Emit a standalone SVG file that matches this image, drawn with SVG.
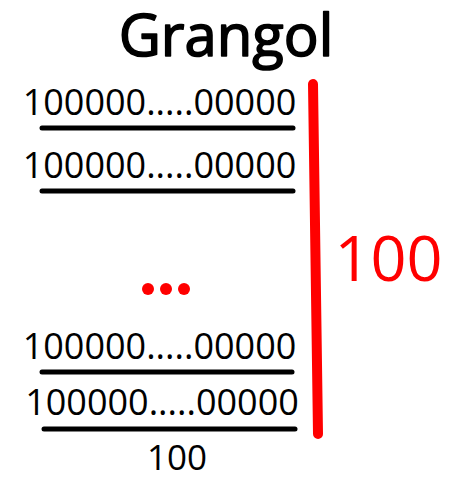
<svg xmlns="http://www.w3.org/2000/svg" width="462" height="479" viewBox="0 0 462 479">
<style>
text{font-family:"Open Sans","Noto Sans","Liberation Sans",sans-serif;}
.row{font-size:36px;fill:#000;}
.ul{stroke:#000;stroke-width:5;stroke-linecap:round;fill:none;}
.dot{fill:#ff0000;}
</style>
<rect width="462" height="479" fill="#fff"/>
<g id="title"><text x="226" y="56" text-anchor="middle" font-size="58" stroke="#000" stroke-width="1.6" stroke-linejoin="round">Grangol</text></g>
<g id="row1"><text class="row" x="159.5" y="115" text-anchor="middle">100000.....00000</text></g>
<g id="row2"><text class="row" x="159.5" y="178" text-anchor="middle">100000.....00000</text></g>
<g id="ellipsis"><circle class="dot" cx="148" cy="289" r="6"/><circle class="dot" cx="166" cy="289" r="6"/><circle class="dot" cx="184" cy="289" r="6"/></g>
<g id="row3"><text class="row" x="159.5" y="359" text-anchor="middle">100000.....00000</text></g>
<g id="row4"><text class="row" x="162" y="415" text-anchor="middle">100000.....00000</text></g>
<g id="result"><text x="177" y="470" text-anchor="middle" font-size="35">100</text></g>
<g id="count"><text x="388.5" y="281" text-anchor="middle" font-size="63" fill="#ff0000">100</text></g>
<g id="connectors">
<line class="ul" x1="42" y1="128" x2="293" y2="128"/>
<line class="ul" x1="42" y1="191" x2="293" y2="191"/>
<line class="ul" x1="42" y1="372" x2="292" y2="372"/>
<line class="ul" x1="44" y1="429" x2="295" y2="429"/>
<line x1="313" y1="84" x2="318" y2="434" stroke="#ff0000" stroke-width="10" stroke-linecap="round"/>
</g>
</svg>
